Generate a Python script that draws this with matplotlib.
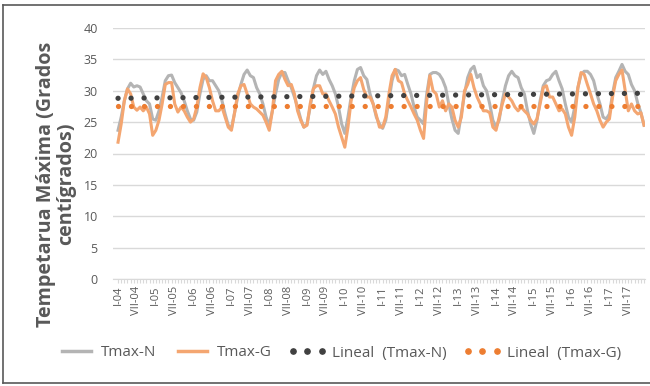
import numpy as np
import matplotlib
matplotlib.use('Agg')
from matplotlib import pyplot as plt
from matplotlib.lines import Line2D

plt.rcParams['font.family'] = ['Open Sans', 'DejaVu Sans']

# monthly values, I-04 .. XII-17
tmax_n = [23.7, 25.8, 28.4, 30.3, 31.2, 30.6, 30.8, 30.6, 29.5, 28.4, 27.9, 25.5,
          25.3, 26.8, 29.0, 31.6, 32.4, 32.5, 31.3, 30.5, 29.7, 28.4, 26.8, 25.5,
          25.3, 26.6, 29.5, 31.8, 32.4, 31.6, 31.6, 30.8, 30.0, 28.4, 26.3, 24.5,
          24.0, 26.5, 29.0, 31.0, 32.6, 33.3, 32.4, 32.1, 30.5, 29.5, 27.9, 25.8,
          24.5, 26.8, 29.5, 31.8, 32.9, 32.9, 31.6, 30.5, 29.0, 27.4, 25.5, 24.2,
          24.7, 27.4, 30.3, 32.4, 33.3, 32.6, 33.1, 31.8, 30.8, 29.5, 27.4, 24.7,
          23.2, 25.8, 29.0, 31.6, 33.4, 33.7, 32.4, 31.8, 29.5, 27.9, 25.8, 24.7,
          24.0, 25.3, 28.4, 31.6, 33.4, 33.2, 32.4, 32.6, 31.0, 29.5, 27.4, 25.8,
          25.3, 24.7, 29.5, 32.6, 32.9, 32.9, 32.6, 31.8, 30.5, 27.9, 25.5, 23.7,
          23.2, 26.3, 29.5, 32.1, 33.4, 33.9, 32.1, 32.6, 30.8, 30.0, 27.9, 25.3,
          24.2, 25.3, 28.4, 30.8, 32.4, 33.1, 32.4, 32.1, 30.5, 29.5, 26.8, 24.7,
          23.2, 25.3, 28.4, 30.8, 31.6, 31.8, 32.6, 33.1, 31.6, 30.3, 27.9, 25.8,
          25.0, 27.4, 30.5, 32.6, 33.1, 33.1, 32.6, 31.6, 29.5, 27.9, 25.8, 25.5,
          26.3, 29.5, 32.1, 33.1, 34.2, 33.1, 32.6, 31.0, 30.0, 28.0, 26.5, 24.5]

tmax_g = [21.8, 24.7, 28.4, 30.3, 29.5, 27.4, 26.9, 27.4, 26.8, 27.4, 26.3, 22.9,
          23.7, 25.3, 27.9, 31.0, 31.3, 31.3, 27.9, 26.6, 27.4, 26.8, 25.8, 25.0,
          25.5, 27.4, 30.5, 32.7, 32.1, 30.5, 28.4, 26.8, 26.8, 27.4, 25.8, 24.2,
          23.7, 26.5, 29.5, 30.8, 31.0, 29.5, 27.9, 27.4, 27.1, 26.6, 26.1, 25.0,
          23.7, 26.8, 31.6, 32.6, 33.1, 31.8, 30.8, 31.0, 29.5, 26.8, 25.3, 24.2,
          24.5, 27.9, 30.3, 30.8, 30.8, 29.5, 29.5, 28.4, 27.4, 26.3, 24.2, 22.6,
          21.0, 24.2, 28.4, 30.5, 31.6, 32.1, 30.2, 29.0, 29.0, 27.9, 26.1, 24.2,
          24.2, 25.8, 29.5, 32.4, 33.4, 31.6, 31.3, 29.5, 28.4, 27.4, 26.3, 25.3,
          23.7, 22.4, 28.4, 32.4, 30.0, 29.5, 27.4, 28.4, 26.8, 27.9, 27.4, 25.3,
          24.2, 25.8, 30.0, 31.0, 32.6, 30.5, 29.0, 27.9, 26.8, 26.8, 26.5, 24.2,
          23.7, 25.8, 27.9, 29.5, 29.0, 28.4, 27.4, 26.8, 27.4, 26.8, 26.3, 25.3,
          24.7, 25.5, 27.9, 30.5, 30.8, 29.0, 29.0, 27.9, 26.8, 27.1, 26.3, 24.2,
          22.9, 25.8, 30.5, 32.9, 32.6, 31.0, 29.5, 27.9, 26.8, 25.3, 24.2, 25.0,
          25.5, 29.0, 31.6, 32.6, 33.3, 30.0, 26.8, 27.9, 26.8, 26.3, 26.5, 24.5]

# linear trend, start and end values
trend_n = [28.8, 29.6]
trend_g = [27.5, 27.5]

months = ['I', 'II', 'III', 'IV', 'V', 'VI', 'VII', 'VIII', 'IX', 'X', 'XI', 'XII']
years = list(range(4, 18))
labels = ['%s-%02d' % (m, y) for y in years for m in months]

txt = '#595959'
grid = '#d9d9d9'

fig = plt.figure(figsize=(6.5, 3.86), dpi=100)
ax = fig.add_axes([113/650, 1-279/386, 532/650, 251/386])

x = np.arange(len(tmax_n))
ax.plot(x, tmax_n, color='#b4b4b4', lw=2.2, solid_joinstyle='round', zorder=3)
ax.plot(x, tmax_g, color='#f4a671', lw=2.2, solid_joinstyle='round', zorder=4)
ax.plot([x[0], x[-1]], trend_n, color='#404040', lw=3.8, dashes=(0.01, 2.45),
        dash_capstyle='round', zorder=5)
ax.plot([x[0], x[-1]], trend_g, color='#ed7d31', lw=3.8, dashes=(0.01, 2.45),
        dash_capstyle='round', zorder=5)

ax.set_ylim(0, 40)
ax.set_yticks(np.arange(0, 41, 5))
ax.set_xlim(-1.6, 167.3)
ax.set_xticks(x)
ax.set_xticklabels([l if i % 6 == 0 else '' for i, l in enumerate(labels)],
                   rotation=90, fontsize=8, color=txt)
ax.tick_params(axis='x', length=3, color=grid, width=0.8, pad=2)
ax.tick_params(axis='y', length=0, pad=11, labelsize=9, labelcolor=txt)
ax.grid(axis='y', color=grid, lw=1)
ax.set_axisbelow(True)
for s in ['top', 'right', 'left']:
    ax.spines[s].set_visible(False)
ax.spines['bottom'].set_color(grid)

fig.text(56/650, 1-184/386, 'Tempetarua Máxima (Grados\ncentígrados)',
         rotation=90, ha='center', va='center', multialignment='center',
         fontsize=14.2, fontweight='bold', color=txt, linespacing=1.05)

handles = [Line2D([], [], color='#b4b4b4', lw=2.5),
           Line2D([], [], color='#f4a671', lw=2.5),
           Line2D([], [], color='#404040', ls='none', marker='o', ms=3.8),
           Line2D([], [], color='#ed7d31', ls='none', marker='o', ms=3.8)]
names = ['Tmax-N', 'Tmax-G', 'Lineal  (Tmax-N)', 'Lineal  (Tmax-G)']
fig.legend(handles, names, loc='center', bbox_to_anchor=(339/650, 1-353/386),
           ncol=4, frameon=False, fontsize=11, labelcolor=txt, numpoints=3,
           handlelength=2.5, handletextpad=0.35, columnspacing=1.1)

# outer frame
for xs, ys in [([3, 650], [5, 5]), ([3, 3], [5, 383]), ([3, 650], [383, 383])]:
    fig.add_artist(Line2D([v/650 for v in xs], [1-v/386 for v in ys],
                          color='#595959', lw=1.2))

fig.savefig('out.png', dpi=100)
